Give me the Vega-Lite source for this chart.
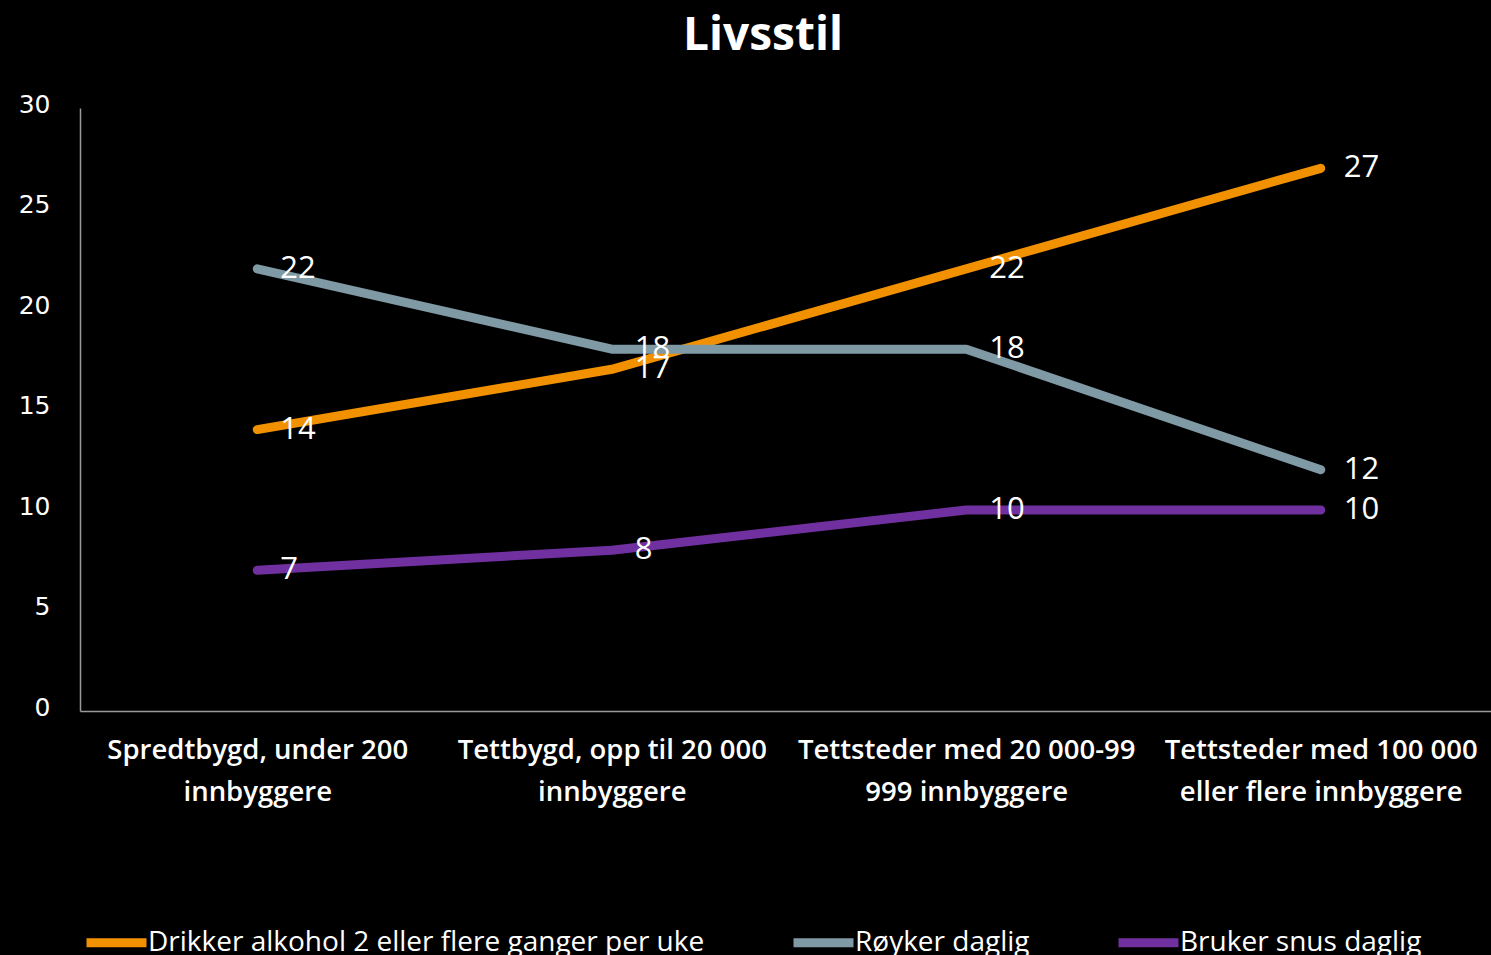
{
  "$schema": "https://vega.github.io/schema/vega-lite/v6.json",
  "autosize": {"type": "none"},
  "padding": {"left": 80, "top": 108, "right": 0, "bottom": 244},
  "width": 1418,
  "height": 603,
  "background": "#000000",
  "config": {"view": {"stroke": null}},
  "title": {
    "text": "Livsstil",
    "color": "#ffffff",
    "fontSize": 46,
    "font": "Open Sans",
    "fontWeight": "bold",
    "anchor": "middle",
    "dx": -26,
    "offset": 32
  },
  "data": {
    "values": [
      {"sted": "Spredtbygd, under 200 innbyggere", "serie": "Drikker alkohol 2 eller flere ganger per uke", "verdi": 14},
      {"sted": "Tettbygd, opp til 20 000 innbyggere", "serie": "Drikker alkohol 2 eller flere ganger per uke", "verdi": 17},
      {"sted": "Tettsteder med 20 000-99 999 innbyggere", "serie": "Drikker alkohol 2 eller flere ganger per uke", "verdi": 22},
      {"sted": "Tettsteder med 100 000 eller flere innbyggere", "serie": "Drikker alkohol 2 eller flere ganger per uke", "verdi": 27},
      {"sted": "Spredtbygd, under 200 innbyggere", "serie": "Røyker daglig", "verdi": 22},
      {"sted": "Tettbygd, opp til 20 000 innbyggere", "serie": "Røyker daglig", "verdi": 18},
      {"sted": "Tettsteder med 20 000-99 999 innbyggere", "serie": "Røyker daglig", "verdi": 18},
      {"sted": "Tettsteder med 100 000 eller flere innbyggere", "serie": "Røyker daglig", "verdi": 12},
      {"sted": "Spredtbygd, under 200 innbyggere", "serie": "Bruker snus daglig", "verdi": 7},
      {"sted": "Tettbygd, opp til 20 000 innbyggere", "serie": "Bruker snus daglig", "verdi": 8},
      {"sted": "Tettsteder med 20 000-99 999 innbyggere", "serie": "Bruker snus daglig", "verdi": 10},
      {"sted": "Tettsteder med 100 000 eller flere innbyggere", "serie": "Bruker snus daglig", "verdi": 10}
    ]
  },
  "encoding": {
    "x": {
      "field": "sted",
      "type": "nominal",
      "sort": null,
      "scale": {"type": "point", "padding": 0.5},
      "axis": {
        "title": null,
        "labelAngle": 0,
        "labelColor": "#ffffff",
        "labelFont": "Open Sans",
        "labelFontWeight": 600,
        "labelFontSize": 27.5,
        "labelLineHeight": 42,
        "labelPadding": 25,
        "labelBaseline": "top",
        "labelLimit": 400,
        "ticks": false,
        "grid": false,
        "domainColor": "#9a9a9a",
        "domainWidth": 1.5,
        "labelExpr": "datum.value == 'Spredtbygd, under 200 innbyggere' ? ['Spredtbygd, under 200', 'innbyggere'] : datum.value == 'Tettbygd, opp til 20 000 innbyggere' ? ['Tettbygd, opp til 20 000', 'innbyggere'] : datum.value == 'Tettsteder med 20 000-99 999 innbyggere' ? ['Tettsteder med 20 000-99', '999 innbyggere'] : ['Tettsteder med 100 000', 'eller flere innbyggere']"
      }
    },
    "y": {
      "field": "verdi",
      "type": "quantitative",
      "scale": {"domain": [0, 30], "nice": false},
      "axis": {
        "title": null,
        "values": [0, 5, 10, 15, 20, 25, 30],
        "labelColor": "#ffffff",
        "labelFont": "DejaVu Sans",
        "labelFontWeight": "normal",
        "labelFontSize": 25,
        "labelPadding": 30,
        "labelOffset": -4,
        "ticks": false,
        "grid": false,
        "domainColor": "#9a9a9a",
        "domainWidth": 1.5
      }
    },
    "color": {
      "field": "serie",
      "type": "nominal",
      "scale": {
        "domain": ["Drikker alkohol 2 eller flere ganger per uke", "Røyker daglig", "Bruker snus daglig"],
        "range": ["#F29100", "#7F9AA5", "#7030A0"]
      },
      "legend": {
        "title": null,
        "orient": "none",
        "direction": "horizontal",
        "legendX": 2,
        "legendY": 800,
        "symbolType": "stroke",
        "symbolSize": 3600,
        "symbolStrokeWidth": 9,
        "labelColor": "#ffffff",
        "labelFont": "Open Sans",
        "labelFontSize": 28,
        "labelOffset": -3,
        "labelLimit": 700,
        "columnPadding": 70
      }
    }
  },
  "layer": [
    {
      "mark": {"type": "line", "strokeWidth": 9, "strokeCap": "round", "strokeJoin": "round"}
    },
    {
      "mark": {"type": "text", "align": "left", "baseline": "middle", "dx": 23, "fontSize": 31, "font": "Open Sans", "color": "#ffffff"},
      "encoding": {
        "text": {"field": "verdi", "type": "quantitative"},
        "color": {"value": "#ffffff"}
      }
    }
  ]
}
